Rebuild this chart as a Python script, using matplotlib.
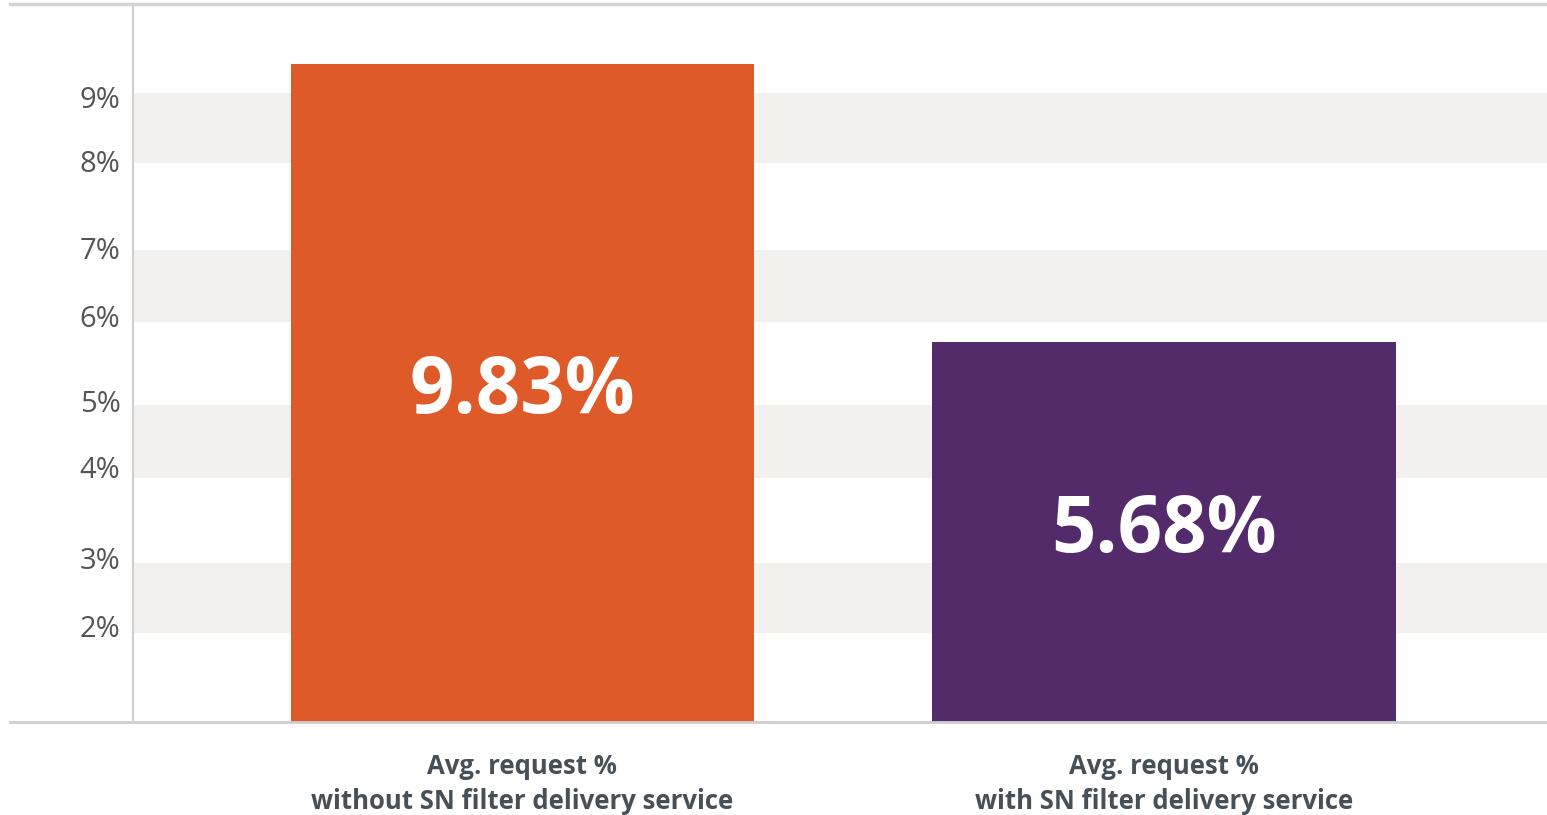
import matplotlib
matplotlib.use("Agg")
import matplotlib.pyplot as plt
from matplotlib.lines import Line2D

# ---- data ----
categories = ["Avg. request %\nwithout SN filter delivery service",
              "Avg. request %\nwith SN filter delivery service"]
values = [9.83, 5.68]
value_labels = ["9.83%", "5.68%"]
bar_colors = ["#DE5A28", "#532B6B"]

tick_labels = ["2%", "3%", "4%", "5%", "6%", "7%", "8%", "9%"]
tick_positions = [1.43, 2.45, 3.81, 4.79, 6.06, 7.08, 8.38, 9.33]
band_ranges = [(1.33, 2.37), (3.64, 4.73), (5.97, 7.05), (8.35, 9.39)]

W, H = 1547, 815
fig = plt.figure(figsize=(W / 100, H / 100), dpi=100)
fig.patch.set_facecolor("white")

ax_left, ax_right = 133 / W, 1.0
ax_bottom, ax_top = 1 - 722 / H, 1 - 4 / H
ax = fig.add_axes([ax_left, ax_bottom, ax_right - ax_left, ax_top - ax_bottom])

ax.set_ylim(0, 10.72)
ax.set_xlim(-0.607, 1.597)

for lo, hi in band_ranges:
    ax.axhspan(lo, hi, color="#F2F1EF", zorder=0, lw=0)

x = list(range(len(categories)))
ax.bar(x, values, width=0.722, color=bar_colors, zorder=2)

for xi, v, lab in zip(x, values, value_labels):
    ax.text(xi, v / 2, lab, ha="center", va="center", color="white",
            fontsize=56, fontweight="bold", family=["Open Sans", "DejaVu Sans"], zorder=3)

ax.set_yticks(tick_positions)
ax.set_yticklabels(tick_labels, fontsize=21, color="#555555", family=["Open Sans", "DejaVu Sans"])
ax.tick_params(axis="y", length=0, pad=9)

ax.set_xticks(x)
ax.set_xticklabels(categories, fontsize=18.5, fontweight="bold", color="#474F57",
                   family=["Open Sans", "DejaVu Sans"], linespacing=1.4)
ax.tick_params(axis="x", length=0, pad=22)

for s in ["top", "right", "bottom"]:
    ax.spines[s].set_visible(False)
ax.spines["left"].set_color("#CFCFCF")
ax.spines["left"].set_linewidth(1.5)

# full-width top and bottom rules
fig.add_artist(Line2D([10 / W, 1.0], [ax_top, ax_top], color="#D5D5D5", lw=2.5))
fig.add_artist(Line2D([10 / W, 1.0], [ax_bottom, ax_bottom], color="#CFCFCF", lw=2))

fig.savefig("out.png", dpi=100, facecolor="white")
